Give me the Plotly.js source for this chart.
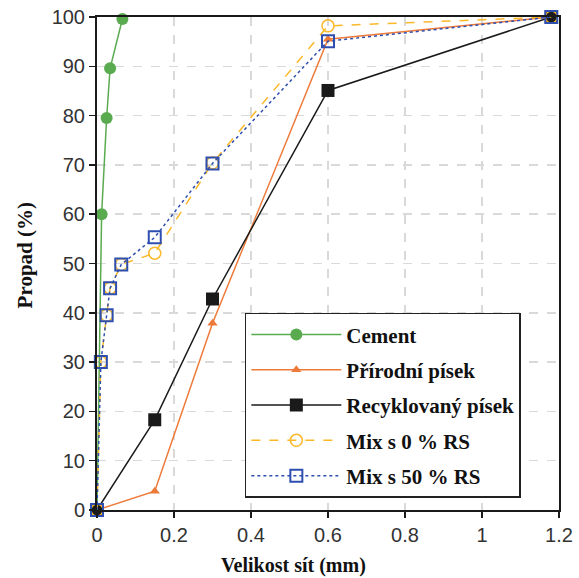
<!DOCTYPE html>
<html><head><meta charset="utf-8">
<script src="https://cdn.plot.ly/plotly-3.0.1.min.js"></script>
<style>html,body{margin:0;padding:0;background:#fff}#c{width:579px;height:578px}</style>
</head><body><div id="c"></div>
<script>
const cementX = [0, 0.012, 0.025, 0.034, 0.066];
const cementY = [0, 60, 79.5, 89.6, 99.6];
const sandX = [0, 0.15, 0.3, 0.6, 1.18];
const naturalY = [0, 3.8, 37.9, 95.5, 100];
const recycledY = [0, 18.3, 42.8, 85.1, 100];
const mixX = [0, 0.01, 0.025, 0.034, 0.063, 0.15, 0.3, 0.6, 1.18];
const mix0Y = [0, 30, 39.5, 45, 49.8, 52.1, 70.4, 98.2, 100];
const mix50Y = [0, 30, 39.5, 45, 49.8, 55.3, 70.3, 95.1, 100];
const names = ["Cement", "Přírodní písek", "Recyklovaný písek", "Mix s 0 % RS", "Mix s 50 % RS"];
const xTitle = "Velikost sít (mm)";
const yTitle = "Propad (%)";

const traces = [
  {x: cementX, y: cementY, name: names[0], legendgroup: 'a', mode: 'lines+markers', cliponaxis: false,
   line: {color: '#5aab4f', width: 1.5}, marker: {symbol: 'circle', size: 12, color: '#5aab4f'}},
  {x: sandX, y: naturalY, name: names[1], legendgroup: 'b', mode: 'lines+markers', cliponaxis: false,
   line: {color: '#ee7a3a', width: 1.5}, marker: {symbol: 'triangle-up', size: 9, color: '#ee7a3a'}},
  {x: sandX, y: recycledY, name: names[2], legendgroup: 'c', mode: 'lines+markers', cliponaxis: false,
   line: {color: '#1a1a1a', width: 1.5}, marker: {symbol: 'square', size: 13, color: '#1a1a1a'}},
  {x: mixX, y: mix0Y, name: names[3], legendgroup: 'd', mode: 'lines+markers', cliponaxis: false,
   line: {color: '#fbb829', width: 1.5, dash: 'dash'},
   marker: {symbol: 'circle-open', size: 12, color: '#fbb829', line: {width: 1.5}}},
  {x: mixX, y: mix50Y, name: names[4], legendgroup: 'e', mode: 'lines+markers', cliponaxis: false,
   line: {color: '#2e4fb0', width: 1.5, dash: 'dot'},
   marker: {symbol: 'square-open', size: 12, color: '#2e4fb0', line: {width: 2}}}
];

const axisCommon = {
  showgrid: true, gridcolor: '#d9d9d9', griddash: 'dash', gridwidth: 1.5,
  zeroline: false, showline: true, linecolor: '#1a1a1a', linewidth: 2, mirror: true,
  ticks: 'outside', ticklen: 6, tickcolor: '#1a1a1a', tickwidth: 1.5,
  tickfont: {family: 'Liberation Sans', size: 20, color: '#333'}
};

const layout = {
  width: 579, height: 578,
  margin: {l: 97, r: 20, t: 17, b: 68},
  paper_bgcolor: '#fff', plot_bgcolor: '#fff',
  showlegend: true,
  legend: {x: 0.32, y: 0.40, xanchor: 'left', yanchor: 'top',
    bgcolor: '#fff', bordercolor: '#222', borderwidth: 1.5,
    font: {family: 'Liberation Serif', size: 21, color: '#111', weight: 'bold'},
    tracegroupgap: 5, itemwidth: 90},
  xaxis: Object.assign({range: [0, 1.2], dtick: 0.2, tick0: 0}, axisCommon),
  yaxis: Object.assign({range: [0, 100], dtick: 10, tick0: 0}, axisCommon),
  annotations: [
    {text: xTitle, xref: 'paper', yref: 'paper', x: (293 - 97) / 462, y: -0.112, xanchor: 'center', yanchor: 'middle',
     showarrow: false, font: {family: 'Liberation Serif', size: 20, color: '#111', weight: 'bold'}},
    {text: yTitle, xref: 'paper', yref: 'paper', x: -0.155, y: (510 - 255) / 493, xanchor: 'center', yanchor: 'middle',
     textangle: -90, showarrow: false, font: {family: 'Liberation Serif', size: 21, color: '#111', weight: 'bold'}}
  ]
};
Plotly.newPlot('c', traces, layout, {displayModeBar: false, staticPlot: true});
</script></body></html>
